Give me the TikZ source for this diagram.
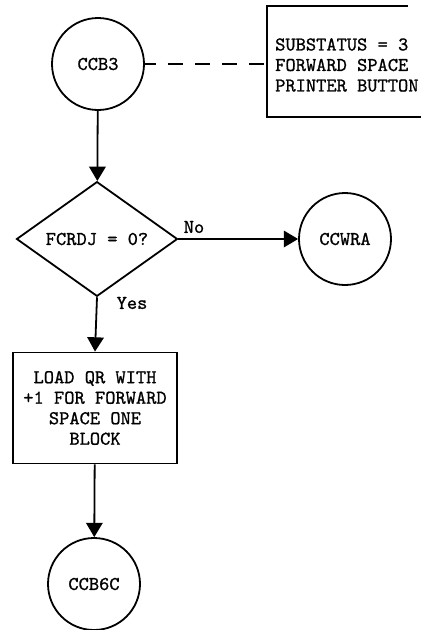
\documentclass[tikz,border=0pt]{standalone}
\usepackage{fontspec}
\newfontfamily\tw{lmmono10-regular.otf}[FakeBold=1]
\usetikzlibrary{shapes.geometric,arrows.meta}
\begin{document}
\begin{tikzpicture}[x=1pt,y=1pt,
  every node/.style={font=\tw\fontsize{19.5}{20.5}\selectfont},
  line/.style={line width=1.8pt},
  arr/.style={line width=1.8pt, -{Triangle[scale=1.8]}},
  circ/.style={circle, draw, line width=1.8pt, minimum size=92pt, inner sep=0pt},
  dec/.style={diamond, draw, line width=1.8pt, minimum width=161pt, minimum height=107pt, inner sep=0pt},
  proc/.style={rectangle, draw, line width=1.8pt, minimum width=164pt, minimum height=111pt, inner sep=0pt, align=center},
  lbl/.style={inner sep=0pt}]
\useasboundingbox (0,0) rectangle (426,-630);
\node[circ] (ccb3) at (98,-64) {CCB3};
\coordinate (nt) at (408,-6);
\coordinate (ntl) at (267,-6);
\coordinate (nbl) at (267,-117);
\coordinate (nb) at (421,-117);
\coordinate (nm) at (267,-64);
\draw[line] (nt) -- (ntl) -- (nbl) -- (nb);
\node[anchor=west, align=left, inner sep=0pt] (note) at (275,-65) {SUBSTATUS = 3\\FORWARD SPACE\\PRINTER BUTTON};
\draw[line, dash pattern=on 15pt off 12pt, dash phase=4pt] (ccb3.east) -- (nm);
\node[dec] (fc) at (97,-239) {FCRDJ = 0?};
\node[circ] (ccwra) at (345,-239) {CCWRA};
\node[lbl] (no) at (194,-227) {No};
\node[lbl] (yes) at (132,-303) {Yes};
\node[proc] (load) at (95,-408) {\rule{0pt}{6pt}LOAD QR WITH\\+1 FOR FORWARD\\SPACE ONE\\BLOCK};
\node[circ] (ccb6c) at (94,-584) {CCB6C};
\draw[arr] (ccb3) -- (fc);
\draw[arr] (fc.east) -- (ccwra);
\draw[arr] (fc.south) -- (load.north);
\draw[arr] (load) -- (ccb6c);
\end{tikzpicture}
\end{document}
